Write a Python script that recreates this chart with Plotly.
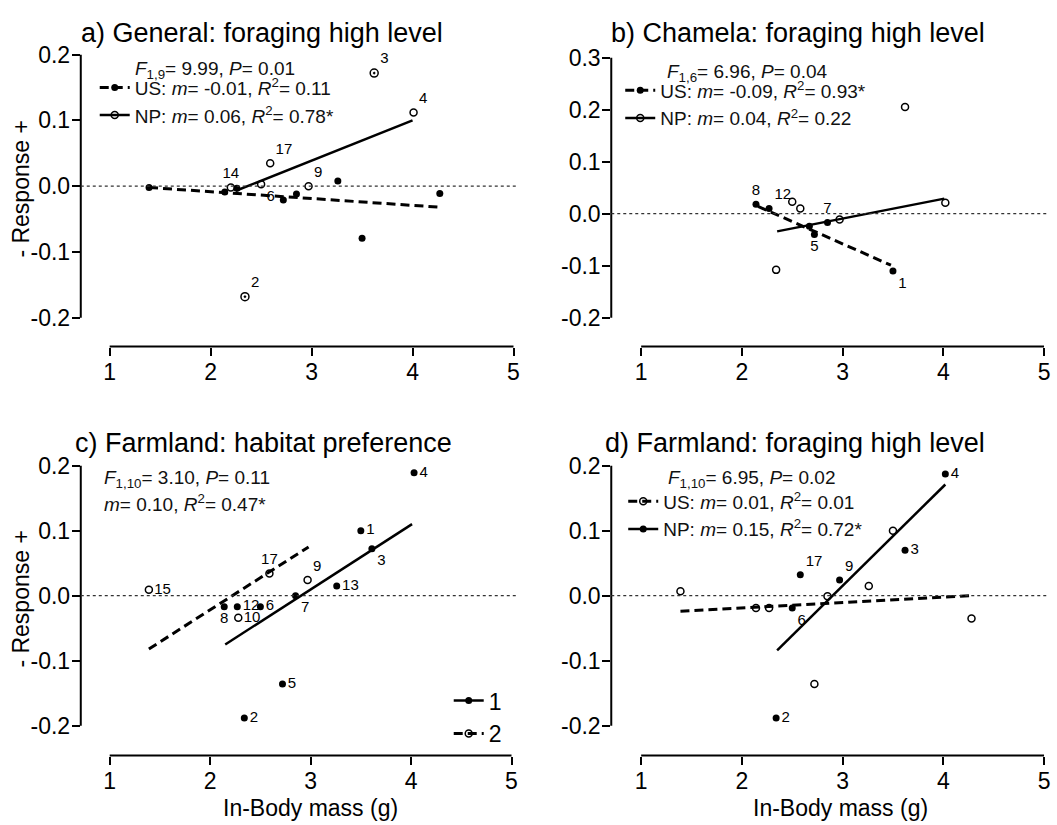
import plotly.graph_objects as go

W, H = 1057, 825

# ---------------- data ----------------
# Panel a) General: foraging high level
a_us_x = [1.39, 2.14, 2.26, 2.72, 2.85, 3.26, 3.50, 4.27]
a_us_y = [-0.002, -0.009, -0.003, -0.021, -0.012, 0.008, -0.079, -0.011]
a_us_lab = ["", "", "", "", "", "", "", ""]
a_np_x = [2.20, 2.59, 2.50, 2.97, 4.01]
a_np_y = [-0.002, 0.035, 0.003, 0.000, 0.112]
a_np_lab = ["14", "17", "6", "9", "4"]
a_both_x = [3.62, 2.34]
a_both_y = [0.172, -0.168]
a_both_lab = ["3", "2"]
a_fit_us_x = [1.39, 4.27]
a_fit_us_y = [-0.002, -0.032]
a_fit_np_x = [2.25, 4.00]
a_fit_np_y = [-0.007, 0.100]

# Panel b) Chamela: foraging high level
b_us_x = [2.14, 2.27, 2.67, 2.72, 2.85, 3.50]
b_us_y = [0.018, 0.010, -0.024, -0.040, -0.017, -0.110]
b_us_lab = ["8", "12", "", "5", "7", "1"]
b_np_x = [2.50, 2.58, 2.97, 2.34, 3.62, 4.02]
b_np_y = [0.023, 0.010, -0.011, -0.108, 0.205, 0.021]
b_np_lab = ["", "", "", "", "", ""]
b_fit_us_x = [2.16, 3.48]
b_fit_us_y = [0.014, -0.099]
b_fit_np_x = [2.35, 4.01]
b_fit_np_y = [-0.034, 0.029]

# Panel c) Farmland: habitat preference
c_g1_x = [4.03, 3.50, 3.61, 3.26, 2.85, 2.14, 2.27, 2.50, 2.72, 2.34]
c_g1_y = [0.189, 0.100, 0.072, 0.015, 0.000, -0.017, -0.017, -0.017, -0.136, -0.188]
c_g1_lab = ["4", "1", "3", "13", "7", "8", "12", "6", "5", "2"]
c_g2_x = [2.59, 2.97, 1.39, 2.28]
c_g2_y = [0.034, 0.024, 0.009, -0.034]
c_g2_lab = ["17", "9", "15", "10"]
c_fit_g1_x = [2.15, 4.01]
c_fit_g1_y = [-0.075, 0.110]
c_fit_g2_x = [1.39, 2.98]
c_fit_g2_y = [-0.082, 0.075]

# Panel d) Farmland: foraging high level
d_us_x = [3.50, 3.26, 1.39, 2.85, 2.14, 2.27, 4.28, 2.72]
d_us_y = [0.100, 0.015, 0.007, -0.001, -0.019, -0.019, -0.035, -0.136]
d_us_lab = ["", "", "", "", "", "", "", ""]
d_np_x = [4.02, 3.62, 2.58, 2.97, 2.50, 2.34]
d_np_y = [0.187, 0.070, 0.032, 0.024, -0.019, -0.188]
d_np_lab = ["4", "3", "17", "9", "6", "2"]
d_fit_us_x = [1.39, 4.27]
d_fit_us_y = [-0.024, 0.000]
d_fit_np_x = [2.35, 4.02]
d_fit_np_y = [-0.084, 0.171]

x_ticks = [1, 2, 3, 4, 5]
y_ticks_ab = [0.2, 0.1, 0.0, -0.1, -0.2]
y_ticks_b = [0.3, 0.2, 0.1, 0.0, -0.1, -0.2]

titles = ["a) General: foraging high level", "b) Chamela: foraging high level",
          "c) Farmland: habitat preference", "d) Farmland: foraging high level"]
stats = ["<i>F</i><sub>1,9</sub>= 9.99, <i>P</i>= 0.01",
         "<i>F</i><sub>1,6</sub>= 6.96, <i>P</i>= 0.04",
         "<i>F</i><sub>1,10</sub>= 3.10, <i>P</i>= 0.11",
         "<i>F</i><sub>1,10</sub>= 6.95, <i>P</i>= 0.02"]
c_fit_text = "<i>m</i>= 0.10, <i>R</i><sup>2</sup>= 0.47*"
leg_a = ["US: <i>m</i>= -0.01, <i>R</i><sup>2</sup>= 0.11", "NP: <i>m</i>= 0.06, <i>R</i><sup>2</sup>= 0.78*"]
leg_b = ["US: <i>m</i>= -0.09, <i>R</i><sup>2</sup>= 0.93*", "NP: <i>m</i>= 0.04, <i>R</i><sup>2</sup>= 0.22"]
leg_c = ["1", "2"]
leg_d = ["US: <i>m</i>= 0.01, <i>R</i><sup>2</sup>= 0.01", "NP: <i>m</i>= 0.15, <i>R</i><sup>2</sup>= 0.72*"]

# ---------------- layout geometry ----------------
FONT = "Liberation Sans, Arial, sans-serif"
def px_x(p): return p / W
def px_y(p): return 1 - p / H

panels = {
    "a": dict(xa="x", ya="y", xdom=[81, 518], ydom=[42, 343], xr=[0.7136, 5.03], yr=[-0.2438, 0.2106], yt=y_ticks_ab),
    "b": dict(xa="x2", ya="y2", xdom=[613, 1050], ydom=[42, 343], xr=[0.703, 5.0297], yr=[-0.2553, 0.3191], yt=y_ticks_b),
    "c": dict(xa="x3", ya="y3", xdom=[81, 518], ydom=[456, 755], xr=[0.712, 5.05], yr=[-0.2458, 0.2107], yt=y_ticks_ab),
    "d": dict(xa="x4", ya="y4", xdom=[613, 1050], ydom=[456, 755], xr=[0.703, 5.0297], yr=[-0.2458, 0.2107], yt=y_ticks_ab),
}

fig = go.Figure()

FILLED = dict(symbol="circle", size=7, color="black")
OPEN = dict(symbol="circle-open", size=7, color="black", line=dict(width=1.5, color="black"))
BOTH = dict(symbol="circle-open-dot", size=8, color="black", line=dict(width=1.5, color="black"))
SOLID = dict(color="black", width=2.5)
DASH = dict(color="black", width=3, dash="9px,5px")
LBL = dict(family=FONT, size=15, color="black")

def pts(p, x, y, lab, marker, pos):
    P = panels[p]
    fig.add_trace(go.Scatter(x=x, y=y, mode="markers+text", text=lab, textposition=pos,
                             textfont=LBL, marker=marker, xaxis=P["xa"], yaxis=P["ya"],
                             showlegend=False, cliponaxis=False))

def fit(p, x, y, line):
    P = panels[p]
    fig.add_trace(go.Scatter(x=x, y=y, mode="lines", line=line, xaxis=P["xa"], yaxis=P["ya"],
                             showlegend=False, cliponaxis=False))

def legitem(p, name, line, marker, legend):
    P = panels[p]
    fig.add_trace(go.Scatter(x=[None], y=[None], mode="lines+markers", name=name, line=line,
                             marker=marker, xaxis=P["xa"], yaxis=P["ya"], legend=legend))

# panel a
fit("a", a_fit_us_x, a_fit_us_y, DASH)
fit("a", a_fit_np_x, a_fit_np_y, SOLID)
pts("a", a_us_x, a_us_y, a_us_lab, FILLED, "top right")
pts("a", a_np_x, a_np_y, a_np_lab,
    OPEN, ["top center", "top right", "bottom right", "top right", "top right"])
pts("a", a_both_x, a_both_y, a_both_lab, BOTH, "top right")
legitem("a", leg_a[0], DASH, FILLED, "legend")
legitem("a", leg_a[1], SOLID, OPEN, "legend")

# panel b
fit("b", b_fit_us_x, b_fit_us_y, DASH)
fit("b", b_fit_np_x, b_fit_np_y, SOLID)
pts("b", b_us_x, b_us_y, b_us_lab, FILLED,
    ["top center", "top right", "top right", "bottom center", "top center", "bottom right"])
pts("b", b_np_x, b_np_y, b_np_lab, OPEN, "top right")
legitem("b", leg_b[0], DASH, FILLED, "legend2")
legitem("b", leg_b[1], SOLID, OPEN, "legend2")

# panel c
fit("c", c_fit_g1_x, c_fit_g1_y, SOLID)
fit("c", c_fit_g2_x, c_fit_g2_y, DASH)
pts("c", c_g1_x, c_g1_y, c_g1_lab, FILLED,
    ["middle right", "middle right", "bottom right", "middle right", "bottom right",
     "bottom center", "middle right", "middle right", "middle right", "middle right"])
pts("c", c_g2_x, c_g2_y, c_g2_lab, OPEN,
    ["top center", "top right", "middle right", "middle right"])
legitem("c", leg_c[0], SOLID, FILLED, "legend3")
legitem("c", leg_c[1], DASH, OPEN, "legend3")

# panel d
fit("d", d_fit_us_x, d_fit_us_y, DASH)
fit("d", d_fit_np_x, d_fit_np_y, SOLID)
pts("d", d_us_x, d_us_y, d_us_lab, OPEN, "top right")
pts("d", d_np_x, d_np_y, d_np_lab, FILLED,
    ["middle right", "middle right", "top right", "top right", "bottom right", "middle right"])
legitem("d", leg_d[0], DASH, OPEN, "legend4")
legitem("d", leg_d[1], SOLID, FILLED, "legend4")

layout = dict(width=W, height=H, margin=dict(l=0, r=0, t=0, b=0),
              paper_bgcolor="white", plot_bgcolor="white",
              font=dict(family=FONT, color="black"))
shapes = []
annotations = []
TICKFONT = dict(family=FONT, size=23, color="black")
for i, (k, P) in enumerate(panels.items()):
    sfx = "" if i == 0 else str(i + 1)
    layout["xaxis" + sfx] = dict(domain=[px_x(P["xdom"][0]), px_x(P["xdom"][1])], range=P["xr"],
                                 anchor=P["ya"], tickvals=x_ticks, ticktext=[str(v) for v in x_ticks],
                                 ticks="outside", ticklen=8, tickwidth=2, tickcolor="black",
                                 ticklabelstandoff=-3,
                                 showline=False, showgrid=False, zeroline=False, tickfont=TICKFONT)
    layout["yaxis" + sfx] = dict(domain=[px_y(P["ydom"][1]), px_y(P["ydom"][0])], range=P["yr"],
                                 anchor=P["xa"], tickvals=P["yt"], ticktext=["%.1f" % v for v in P["yt"]],
                                 ticks="outside", ticklen=8, tickwidth=2, tickcolor="black",
                                 ticklabelstandoff=-3,
                                 showline=False, showgrid=False, zeroline=False, tickfont=TICKFONT)
    xd, yd = P["xa"] + " domain", P["ya"] + " domain"
    # offset axis lines
    shapes.append(dict(type="line", xref=P["xa"], yref=yd, x0=x_ticks[0], x1=x_ticks[-1], y0=0, y1=0,
                       line=dict(color="black", width=2)))
    shapes.append(dict(type="line", xref=xd, yref=P["ya"], x0=0, x1=0, y0=min(P["yt"]), y1=max(P["yt"]),
                       line=dict(color="black", width=2)))
    # dotted zero line
    shapes.append(dict(type="line", xref=xd, yref=P["ya"], x0=0, x1=1, y0=0, y1=0,
                       line=dict(color="#333", width=1.2, dash="dot")))

# titles
title_pos = [(263, 27), (800, 27), (264, 440), (797, 440)]
for t, (cx, cy) in zip(titles, title_pos):
    annotations.append(dict(text=t, xref="paper", yref="paper", x=px_x(cx), y=px_y(cy),
                            xanchor="center", yanchor="middle", showarrow=False,
                            font=dict(family=FONT, size=27, color="black")))
# stats lines
stat_pos = [(133, 64), (667, 67), (102, 476), (668, 476)]
for t, (lx, cy) in zip(stats, stat_pos):
    annotations.append(dict(text=t, xref="paper", yref="paper", x=px_x(lx), y=px_y(cy),
                            xanchor="left", yanchor="middle", showarrow=False,
                            font=dict(family=FONT, size=19, color="#111")))
annotations.append(dict(text=c_fit_text, xref="paper", yref="paper", x=px_x(102), y=px_y(501),
                        xanchor="left", yanchor="middle", showarrow=False,
                        font=dict(family=FONT, size=19, color="#111")))
# axis titles
for cy in (184, 597):
    annotations.append(dict(text="- Response +", xref="paper", yref="paper", x=px_x(21), y=px_y(cy),
                            xanchor="center", yanchor="middle", textangle=-90, showarrow=False,
                            font=dict(family=FONT, size=23, color="black")))
for cx in (311, 843):
    annotations.append(dict(text="In-Body mass (g)", xref="paper", yref="paper", x=px_x(cx), y=px_y(808),
                            xanchor="center", yanchor="middle", showarrow=False,
                            font=dict(family=FONT, size=23, color="black")))

LEGFONT = dict(family=FONT, size=19, color="#111")
layout["legend"] = dict(x=px_x(95), y=px_y(63), xanchor="left", yanchor="top", font=LEGFONT,
                        bgcolor="rgba(0,0,0,0)", tracegroupgap=0)
layout["legend2"] = dict(x=px_x(622), y=px_y(66), xanchor="left", yanchor="top", font=LEGFONT,
                         bgcolor="rgba(0,0,0,0)", tracegroupgap=0)
layout["legend3"] = dict(x=px_x(450), y=px_y(678), xanchor="left", yanchor="top",
                         font=dict(family=FONT, size=23, color="black"),
                         bgcolor="rgba(0,0,0,0)", tracegroupgap=0)
layout["legend4"] = dict(x=px_x(625), y=px_y(480), xanchor="left", yanchor="top", font=LEGFONT,
                         bgcolor="rgba(0,0,0,0)", tracegroupgap=0)
layout["shapes"] = shapes
layout["annotations"] = annotations
fig.update_layout(**layout)
fig.write_html("out.html")
